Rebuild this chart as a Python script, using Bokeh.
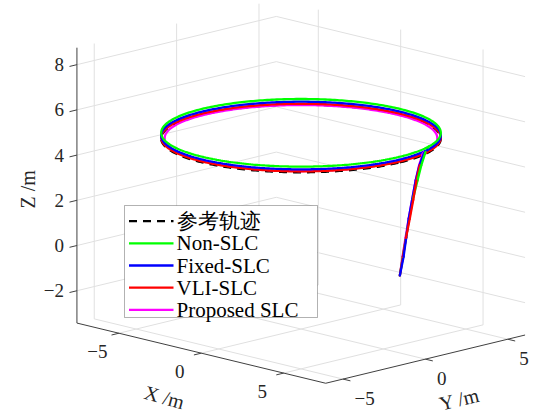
import math
import numpy as np
from bokeh.plotting import figure
from bokeh.models import (Range1d, ColumnDataSource, BoxAnnotation, Label,
                          Arrow)
from bokeh.core.properties import value
from bokeh.embed import file_html
from bokeh.resources import INLINE

# ---------------- data ----------------
x_lim = [-7.55, 7.55]
y_lim = [-6.05, 6.05]
z_lim = [-3.43, 8.75]
x_ticks = [-5, 0, 5]
y_ticks = [-5, 0, 5]
z_ticks = [-2, 0, 2, 4, 6, 8]
x_tick_labels = ["\u22125", "0", "5"]
y_tick_labels = ["\u22125", "0", "5"]
z_tick_labels = ["\u22122", "0", "2", "4", "6", "8"]
x_label = "X /m"
y_label = "Y /m"
z_label = "Z /m"

ref_name = "参考轨迹"
ref_radius = 6.0
ref_height = 5.0

series_names = ["Non-SLC", "Fixed-SLC", "VLI-SLC", "Proposed SLC"]
series_colors = ["#00ff00", "#0000ff", "#ff0000", "#ff00ff"]
# circle each controller settles on (radius, height); centred at (0, 0)
series_radius = [6.0, 6.0, 6.0, 5.85]
series_height = [5.25, 5.13, 5.04, 5.02]

# climb from the start point (6, 0, 0): azimuth (deg), radius, height
non_slc_theta = [0, 1.8, 3.7, 5.7, 8.0, 10.6, 13.4, 17.0, 21.0]
non_slc_r = [6.0, 6.0, 6.0, 6.0, 6.01, 6.06, 6.06, 6.05, 6.0]
non_slc_z = [0.0, 0.8, 1.6, 2.4, 3.2, 4.0, 4.6, 5.1, 5.25]
fixed_theta = [0, 1.8, 3.6, 5.5, 7.8, 10.3, 13.0, 16.8, 20.0]
fixed_r = [6.0, 6.04, 6.02, 5.99, 5.99, 5.99, 5.99, 5.99, 6.0]
fixed_z = [0.0, 0.8, 1.6, 2.4, 3.2, 4.0, 4.6, 5.05, 5.13]
vli_theta = [0, 1.8, 3.6, 5.6, 7.9, 10.4, 13.1, 16.8, 19.0]
vli_r = [6.0, 6.0, 6.01, 6.04, 6.04, 6.02, 6.0, 5.99, 6.0]
vli_z = [0.0, 0.8, 1.6, 2.4, 3.2, 4.0, 4.6, 5.0, 5.04]
prop_theta = [0, 1.8, 3.6, 5.6, 7.9, 10.4, 13.1, 16.8, 19.0]
prop_r = [6.0, 5.98, 5.98, 5.98, 5.98, 5.98, 5.97, 5.92, 5.85]
prop_z = [0.0, 0.8, 1.6, 2.4, 3.2, 4.0, 4.6, 5.0, 5.02]

approach = [
    (non_slc_theta, non_slc_r, non_slc_z),
    (fixed_theta, fixed_r, fixed_z),
    (vli_theta, vli_r, vli_z),
    (prop_theta, prop_r, prop_z),
]

# ---------------- view (orthographic 3-D projection) ----------------
AZ = math.radians(45.0)
EL = math.radians(14.0)
SCALE = 23.3            # px per data unit
ORIGIN_PX = (300.5, 251.0)  # where (0,0,0) lands on the canvas
W, H = 535, 416


def project(x, y, z):
    x = np.asarray(x, float)
    y = np.asarray(y, float)
    z = np.asarray(z, float)
    h = x * math.cos(AZ) + y * math.sin(AZ)
    d = x * math.sin(AZ) - y * math.cos(AZ)
    v = z * math.cos(EL) - d * math.sin(EL)
    w = d * math.cos(EL) + z * math.sin(EL)
    return h, v, w


x0 = -ORIGIN_PX[0] / SCALE
ytop = ORIGIN_PX[1] / SCALE
p = figure(width=W, height=H, output_backend="svg", toolbar_location=None,
           x_axis_location=None, y_axis_location=None, min_border=0,
           x_range=Range1d(x0, x0 + W / SCALE),
           y_range=Range1d(ytop - H / SCALE, ytop),
           outline_line_color=None, background_fill_color="white",
           border_fill_color="white")
p.xgrid.visible = False
p.ygrid.visible = False

xmin, xmax = x_lim
ymin, ymax = y_lim
zmin, zmax = z_lim

# ---------------- grid on the three back planes ----------------
gx, gy = [], []


def add_line(list_x, list_y, a, b):
    h, v, _ = project([a[0], b[0]], [a[1], b[1]], [a[2], b[2]])
    list_x.append(list(h))
    list_y.append(list(v))


for xt in x_ticks:
    add_line(gx, gy, (xt, ymin, zmin), (xt, ymax, zmin))
    add_line(gx, gy, (xt, ymax, zmin), (xt, ymax, zmax))
for yt in y_ticks:
    add_line(gx, gy, (xmin, yt, zmin), (xmax, yt, zmin))
    add_line(gx, gy, (xmin, yt, zmin), (xmin, yt, zmax))
for zt in z_ticks:
    add_line(gx, gy, (xmin, ymin, zt), (xmin, ymax, zt))
    add_line(gx, gy, (xmin, ymax, zt), (xmax, ymax, zt))
p.multi_line(gx, gy, line_color="#e0e0e0", line_width=1)

# ---------------- axes lines and ticks ----------------
ax_x, ax_y = [], []
add_line(ax_x, ax_y, (xmin, ymin, zmin), (xmin, ymin, zmax))
add_line(ax_x, ax_y, (xmin, ymin, zmin), (xmax, ymin, zmin))
add_line(ax_x, ax_y, (xmax, ymin, zmin), (xmax, ymax, zmin))
TL = 0.45
for zt in z_ticks:
    add_line(ax_x, ax_y, (xmin, ymin, zt), (xmin, ymin - TL, zt))
for xt in x_ticks:
    add_line(ax_x, ax_y, (xt, ymin, zmin), (xt, ymin - TL, zmin))
for yt in y_ticks:
    add_line(ax_x, ax_y, (xmax, yt, zmin), (xmax + TL, yt, zmin))
p.multi_line(ax_x, ax_y, line_color="#404040", line_width=1)

# ---------------- tick labels ----------------
FONT = value("Liberation Serif")
TXT = "#262626"
h, v, _ = project([xmin] * len(z_ticks), [ymin] * len(z_ticks), z_ticks)
p.text(list(h), list(v), text=z_tick_labels, x_offset=-13, text_align="right",
       text_baseline="middle", text_font=FONT, text_font_size=value("19px"),
       text_color=TXT)
h, v, _ = project(x_ticks, [ymin] * len(x_ticks), [zmin] * len(x_ticks))
p.text(list(h), list(v), text=x_tick_labels, x_offset=-21.5, y_offset=18,
       text_align="center", text_baseline="middle", text_font=FONT,
       text_font_size=value("19px"), text_color=TXT)
h, v, _ = project([xmax] * len(y_ticks), y_ticks, [zmin] * len(y_ticks))
p.text(list(h), list(v), text=y_tick_labels, x_offset=11.5, y_offset=19,
       text_align="left", text_baseline="middle", text_font=FONT,
       text_font_size=value("19px"), text_color=TXT)

# ---------------- axis labels ----------------
h, v, _ = project([0], [ymin], [zmin])
p.text(list(h), list(v), text=[x_label], x_offset=-37, y_offset=44, angle=-0.27,
       text_align="center", text_baseline="middle", text_font=FONT,
       text_font_size=value("20px"), text_color=TXT)
h, v, _ = project([xmax], [0], [zmin])
p.text(list(h), list(v), text=[y_label], x_offset=34, y_offset=40, angle=0.236,
       text_align="center", text_baseline="middle", text_font=FONT,
       text_font_size=value("20px"), text_color=TXT)
h, v, _ = project([xmin], [ymin], [(zmin + zmax) / 2])
p.text(list(h), list(v), text=[z_label], x_offset=-49, y_offset=4, angle=math.pi / 2,
       text_align="center", text_baseline="middle", text_font=FONT,
       text_font_size=value("20px"), text_color=TXT)

# ---------------- trajectories ----------------
LW = 2.3
REF_DASH = "8 6"
t = np.radians(np.linspace(0, 360, 361))
h, v, _ = project(ref_radius * np.cos(t), ref_radius * np.sin(t),
                  np.full_like(t, ref_height))
p.line(h, v, line_color="black", line_width=LW, line_dash=REF_DASH)

order = [3, 2, 1, 0]  # draw the lowest circle first
for i in order:
    th0 = math.radians(approach[i][0][-1])
    tt = th0 + t
    R = series_radius[i]
    h, v, _ = project(R * np.cos(tt), R * np.sin(tt),
                      np.full_like(tt, series_height[i]))
    p.line(h, v, line_color=series_colors[i], line_width=LW)

# take-off legs, painted far-to-near
segs = {"x0": [], "y0": [], "x1": [], "y1": [], "color": [], "depth": []}
for i, (th, rr, zz) in enumerate(approach):
    th = np.radians(th)
    rr = np.asarray(rr)
    h, v, w = project(rr * np.cos(th), rr * np.sin(th), zz)
    for k in range(len(h) - 1):
        segs["x0"].append(h[k]); segs["y0"].append(v[k])
        segs["x1"].append(h[k + 1]); segs["y1"].append(v[k + 1])
        segs["color"].append(series_colors[i])
        segs["depth"].append(0.5 * (w[k] + w[k + 1]))
idx = np.argsort(segs["depth"], kind="stable")
src = ColumnDataSource({k: [segs[k][j] for j in idx] for k in segs})
p.segment("x0", "y0", "x1", "y1", line_color="color", line_width=LW,
          line_cap="round", source=src)

# ---------------- legend (screen-space annotations) ----------------
LEG_LEFT, LEG_RIGHT, LEG_TOP, LEG_BOTTOM = 124, 317, 205, 317
ROW0, ROW_STEP = 220.7, 22.15
SAMPLE_X0, SAMPLE_X1, TEXT_X = 128.5, 173, 176


def sy(py):  # screen units measured from the bottom edge
    return H - py


p.add_layout(BoxAnnotation(left=LEG_LEFT, right=LEG_RIGHT, top=sy(LEG_TOP),
                           bottom=sy(LEG_BOTTOM), left_units="screen",
                           right_units="screen", top_units="screen",
                           bottom_units="screen", fill_color="white",
                           fill_alpha=1.0, line_color="black", line_width=1,
                           level="overlay"))
leg_labels = [ref_name] + series_names
leg_colors = ["black"] + series_colors
leg_dash = [REF_DASH] + ["solid"] * 4
for k, (lab, col, dash) in enumerate(zip(leg_labels, leg_colors, leg_dash)):
    yy = sy(ROW0 + k * ROW_STEP)
    p.add_layout(Arrow(x_start=SAMPLE_X0, y_start=yy, x_end=SAMPLE_X1, y_end=yy,
                       start_units="screen", end_units="screen", end=None,
                       start=None, line_color=col, line_width=LW,
                       line_dash=dash, level="overlay"))
    p.add_layout(Label(x=TEXT_X, y=yy, x_units="screen", y_units="screen",
                       text=lab, text_font="Liberation Serif",
                       text_font_size="21px", text_color="black",
                       text_baseline="middle", text_align="left",
                       level="overlay"))

open("out.html", "w").write(file_html(p, INLINE))
